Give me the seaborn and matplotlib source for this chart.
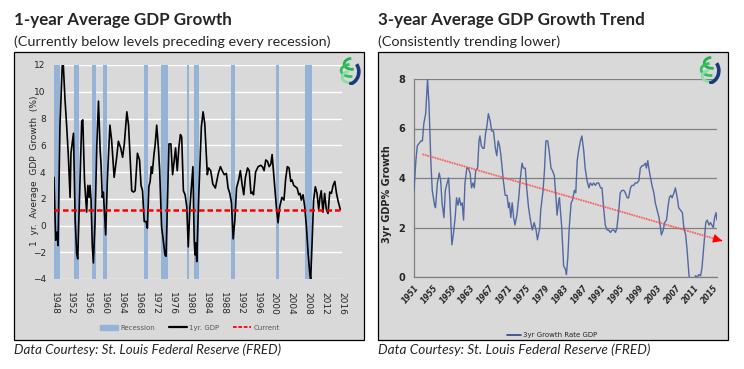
import matplotlib
matplotlib.use("Agg")
from matplotlib import pyplot as plt
from matplotlib.patches import Rectangle, Patch, Arc
from matplotlib.lines import Line2D
import pandas as pd
import seaborn as sns

# ---- 1-year average GDP growth (chart x position in years, value %) ----
gdp1_year = [1948.0, 1948.4, 1948.7, 1948.95, 1949.4, 1949.95, 1950.2, 1950.6, 1951.0, 1951.4,
             1951.8, 1952.0, 1952.6, 1953.0, 1953.35, 1953.6, 1954.15, 1954.55, 1954.8, 1955.2,
             1955.7, 1956.0, 1956.3, 1956.5, 1956.75, 1957.05, 1957.3, 1957.7, 1958.1, 1958.5,
             1958.9, 1959.1, 1959.4, 1959.65, 1960.2, 1960.6, 1961.2, 1961.6, 1962.2, 1962.4,
             1962.8, 1963.2, 1963.75, 1964.2, 1964.6, 1965.2, 1965.6, 1966.0, 1966.35, 1966.75,
             1967.15, 1967.7, 1968.2, 1968.55, 1968.9, 1969.3, 1969.75, 1970.05, 1970.4, 1970.7,
             1971.0, 1971.2, 1971.6, 1971.9, 1972.25, 1972.65, 1972.95, 1973.4, 1973.8, 1974.2,
             1974.45, 1974.75, 1975.15, 1975.6, 1976.0, 1976.4, 1976.7, 1977.1, 1977.5, 1977.85,
             1978.15, 1978.55, 1978.95, 1979.35, 1979.7, 1980.1, 1980.8, 1981.1, 1981.3, 1981.45,
             1981.7, 1982.2, 1982.8, 1983.2, 1983.6, 1984.2, 1984.5, 1985.0, 1985.5, 1986.1,
             1986.8, 1987.3, 1987.7, 1988.2, 1988.7, 1989.1, 1989.5, 1989.9, 1990.3, 1990.7,
             1991.1, 1991.6, 1992.0, 1992.4, 1992.8, 1993.2, 1993.7, 1994.1, 1994.5, 1994.9,
             1995.1, 1995.6, 1996.2, 1996.8, 1997.2, 1997.6, 1998.0, 1998.4, 1998.8, 1999.2,
             1999.5, 1999.8, 2000.1, 2000.5, 2000.9, 2001.3, 2001.8, 2002.3, 2002.7, 2003.1,
             2003.5, 2003.9, 2004.2, 2004.6, 2005.0, 2005.4, 2005.8, 2006.1, 2006.4, 2006.8,
             2007.2, 2007.6, 2008.0, 2008.4, 2008.6, 2008.9, 2009.3, 2009.7, 2010.1, 2010.5,
             2010.8, 2011.1, 2011.5, 2011.9, 2012.3, 2012.7, 2013.1, 2013.5, 2013.9, 2014.3,
             2014.7, 2015.1, 2015.6]
gdp1_val = [3.6, -1.1, -0.5, -1.5, 7.4, 12.0, 12.0, 9.4, 7.4, 5.1,
            2.1, 5.4, 6.9, 0.4, -2.1, -2.5, 3.6, 7.8, 7.9, 3.4,
            1.0, 3.0, 2.1, 3.0, 1.9, -1.6, -2.8, 0.4, 5.9, 9.3,
            5.6, 4.6, 2.1, 2.5, -0.7, 3.4, 7.5, 6.4, 3.6, 4.1,
            5.1, 6.3, 5.8, 5.1, 6.1, 8.5, 7.5, 4.9, 2.6, 2.5,
            2.6, 5.4, 4.9, 3.0, 2.6, 0.3, 0.3, -0.2, 2.9, 3.3,
            4.4, 3.9, 5.3, 6.1, 7.5, 5.8, 4.1, -0.1, -1.1, -2.2,
            -2.3, 1.2, 6.1, 6.1, 3.8, 4.9, 5.8, 4.1, 5.9, 6.8,
            6.6, 2.6, 2.3, 1.4, -1.6, 1.4, 4.4, -1.1, -2.2, -1.3,
            -2.7, 2.4, 7.4, 8.5, 7.6, 3.8, 4.3, 4.1, 3.1, 2.8,
            3.9, 4.4, 4.1, 3.8, 3.9, 2.8, 2.4, 1.7, -1.0, 0.4,
            2.8, 3.4, 4.1, 3.1, 2.3, 3.6, 4.3, 4.1, 2.4, 2.5,
            2.3, 4.0, 4.4, 4.5, 4.4, 4.1, 4.9, 4.8, 4.4, 4.6,
            5.3, 4.1, 2.9, 1.4, 0.2, 1.4, 2.1, 1.9, 3.5, 4.4,
            4.3, 3.3, 3.4, 3.0, 2.9, 2.8, 2.3, 2.4, 1.9, 2.3,
            1.4, -0.1, -2.1, -3.6, -4.0, -1.6, 1.9, 2.9, 2.4, 1.2,
            2.1, 2.6, 1.0, 2.4, 1.2, 0.9, 2.5, 2.4, 3.0, 3.3,
            2.4, 1.8, 1.2]
current_level = 1.15
rec_start = [1948.05, 1952.7, 1957.0, 1959.6, 1969.3, 1973.2, 1979.3, 1981.0, 1989.7, 2000.4, 2007.2]
rec_end = [1949.4, 1953.9, 1957.8, 1960.5, 1970.1, 1974.8, 1979.9, 1982.2, 1990.7, 2001.05, 2008.9]
left_xticks = list(range(1948, 2017, 4))
left_yticks = list(range(-4, 13, 2))

# ---- 3-year average GDP growth ----
gdp3_year = [1951.0, 1951.4, 1951.7, 1952.1, 1952.5, 1952.8, 1953.1, 1953.5, 1953.9, 1954.2,
             1954.6, 1954.9, 1955.4, 1955.6, 1956.0, 1956.4, 1956.7, 1957.0, 1957.4, 1957.7,
             1958.1, 1958.4, 1958.7, 1959.1, 1959.4, 1959.8, 1960.1, 1960.4, 1960.7, 1961.0,
             1961.3, 1961.6, 1961.9, 1962.3, 1962.6, 1963.0, 1963.3, 1963.6, 1963.9, 1964.2,
             1964.6, 1964.9, 1965.1, 1965.4, 1965.7, 1966.0, 1966.3, 1966.6, 1966.9, 1967.3,
             1967.6, 1968.0, 1968.4, 1968.7, 1969.0, 1969.3, 1969.6, 1969.9, 1970.1, 1970.5,
             1970.9, 1971.2, 1971.4, 1971.7, 1972.0, 1972.3, 1972.6, 1973.0, 1973.4, 1973.7,
             1974.1, 1974.4, 1974.8, 1975.1, 1975.5, 1975.9, 1976.3, 1976.7, 1977.1, 1977.4,
             1977.9, 1978.1, 1978.6, 1978.9, 1979.2, 1979.6, 1979.9, 1980.3, 1980.6, 1981.0,
             1981.4, 1981.6, 1981.9, 1982.1, 1982.6, 1983.0, 1983.4, 1983.6, 1983.9, 1984.2,
             1984.6, 1984.9, 1985.3, 1985.6, 1985.9, 1986.2, 1986.6, 1986.9, 1987.3, 1987.6,
             1988.0, 1988.4, 1988.7, 1989.1, 1989.4, 1989.8, 1990.1, 1990.5, 1990.9, 1991.2,
             1991.6, 1991.9, 1992.3, 1992.6, 1993.0, 1993.4, 1993.7, 1994.1, 1994.4, 1994.8,
             1995.1, 1995.5, 1995.9, 1996.2, 1996.6, 1996.9, 1997.3, 1997.6, 1998.0, 1998.3,
             1998.7, 1999.1, 1999.4, 1999.8, 2000.1, 2000.5, 2000.7, 2001.0, 2001.3, 2001.6,
             2001.9, 2002.3, 2002.6, 2003.0, 2003.4, 2003.7, 2003.9, 2004.3, 2004.6, 2005.0,
             2005.3, 2005.6, 2005.9, 2006.2, 2006.6, 2006.9, 2007.3, 2007.6, 2008.0, 2008.4,
             2008.7, 2009.1, 2009.4, 2009.8, 2010.1, 2010.5, 2010.9, 2011.2, 2011.6, 2011.9,
             2012.3, 2012.6, 2013.0, 2013.4, 2013.7, 2014.1, 2014.4, 2014.7, 2015.0, 2015.3,
             2015.6, 2015.8]
gdp3_val = [3.5, 4.7, 5.3, 5.4, 5.5, 5.5, 6.2, 6.6, 8.0, 7.0,
            4.7, 3.5, 2.9, 2.8, 3.8, 4.2, 3.9, 3.0, 2.4, 3.5,
            3.8, 4.0, 3.0, 1.3, 1.7, 2.4, 3.2, 2.9, 3.2, 2.9,
            3.0, 2.3, 3.8, 4.4, 4.4, 4.2, 3.6, 3.8, 3.6, 4.3,
            4.4, 5.5, 5.7, 5.3, 5.2, 5.2, 5.8, 6.1, 6.6, 6.3,
            5.9, 5.9, 5.2, 4.9, 5.5, 5.3, 4.9, 4.3, 3.9, 3.3,
            3.3, 2.8, 3.0, 2.4, 3.0, 2.4, 2.1, 2.5, 3.2, 3.9,
            4.6, 4.4, 4.4, 3.6, 2.8, 2.3, 1.9, 2.2, 1.9, 1.5,
            2.0, 2.7, 3.5, 4.3, 5.5, 5.5, 5.1, 4.4, 4.3, 4.1,
            3.1, 2.5, 3.0, 3.2, 2.0, 0.45, 0.3, 0.1, 0.8, 2.0,
            3.0, 3.1, 3.5, 3.4, 4.7, 5.1, 5.5, 5.7, 5.1, 4.4,
            3.9, 3.6, 3.8, 3.7, 3.8, 3.7, 3.8, 3.8, 3.6, 3.6,
            2.7, 2.1, 1.9, 1.9, 1.8, 1.9, 1.9, 1.8, 2.0, 2.7,
            3.4, 3.5, 3.5, 3.4, 3.2, 3.2, 3.6, 3.7, 3.7, 3.8,
            3.8, 3.9, 4.4, 4.5, 4.5, 4.6, 4.4, 4.7, 4.3, 4.0,
            3.7, 3.4, 3.0, 2.7, 2.4, 2.0, 1.7, 1.9, 2.2, 2.3,
            2.8, 3.2, 3.3, 3.2, 3.4, 3.6, 3.2, 2.8, 2.7, 2.6,
            2.0, 1.7, 1.1, 0.1, -0.3, -0.5, -0.2, 0.05, 0.0, 0.1,
            0.05, 0.4, 1.3, 2.2, 2.3, 2.1, 2.2, 2.1, 2.0, 2.4,
            2.6, 2.3]
trend_year = [1952.8, 2016.9]
trend_val = [4.96, 1.46]
right_xticks = list(range(1951, 2016, 4))
right_yticks = [0, 2, 4, 6, 8]

W, H = 744, 369
BG = "#d9d9d9"
REC_COLOR = "#95b3d7"
LINE3_COLOR = "#5168a3"

sns.set_style("white")
plt.rcParams["font.family"] = ["DejaVu Sans"]

fig = plt.figure(figsize=(W / 100, H / 100), dpi=100)


def fx(px):
    return px / W


def fy(py):
    return 1 - py / H


def fit_text(t, width_px):
    # shrink/grow font so the rendered text is as wide as in the reference
    r = fig.canvas.get_renderer()
    w = t.get_window_extent(renderer=r).width
    t.set_fontsize(t.get_fontsize() * width_px / w)


# panel boxes
for x0, x1 in [(14, 364), (378, 728)]:
    fig.patches.append(Rectangle((fx(x0), fy(340)), (x1 - x0) / W, (340 - 52) / H,
                                 transform=fig.transFigure, facecolor=BG,
                                 edgecolor="black", lw=0.9, zorder=-5))

# titles / notes
texts = [
    (14, 20, "1-year Average GDP Growth", dict(weight="bold"), 217),
    (14, 42, "(Currently below levels preceding every recession)", {}, 316),
    (378, 20, "3-year Average GDP Growth Trend", dict(weight="bold"), 267),
    (378, 42, "(Consistently trending lower)", {}, 182),
    (14, 350, "Data Courtesy: St. Louis Federal Reserve (FRED)", dict(style="italic"), 267),
    (378, 350, "Data Courtesy: St. Louis Federal Reserve (FRED)", dict(style="italic"), 270),
]
for x, y, s, kw, wpx in texts:
    t = fig.text(fx(x), fy(y), s, ha="left", va="center", fontsize=12,
                 family=["Lato", "DejaVu Sans"], **kw)
    fit_text(t, wpx)

# ---------------- left panel ----------------
ax1 = fig.add_axes([fx(54), fy(279), (342 - 54) / W, (279 - 65) / H])
ax1.set_facecolor("none")
for s, e in zip(rec_start, rec_end):
    ax1.axvspan(s, e, color=REC_COLOR, lw=0, zorder=1)
df1 = pd.DataFrame({"year": gdp1_year, "gdp": gdp1_val})
sns.lineplot(data=df1, x="year", y="gdp", ax=ax1, color="black", lw=1.2, zorder=3, legend=False)
ax1.axhline(current_level, color="red", lw=1.8, ls=(0, (2.2, 1.2)), zorder=4)
ax1.set_xlim(1948, 2016)
ax1.set_ylim(-4, 12)
ax1.set_yticks(left_yticks)
ax1.set_xticks(left_xticks)
ax1.set_xticklabels([str(v) for v in left_xticks], rotation=-90, va="top", ha="center")
ax1.grid(axis="y", color="white", lw=1.0, zorder=0)
ax1.set_axisbelow(True)
for sp in ax1.spines.values():
    sp.set_visible(False)
ax1.tick_params(length=0, labelsize=6.5, colors="#262626")
ax1.tick_params(axis="x", pad=9)
ax1.tick_params(axis="y", pad=6)
for lab in ax1.get_xticklabels() + ax1.get_yticklabels():
    lab.set_family(["Liberation Sans Narrow", "DejaVu Sans"])
ax1.set_xlabel("")
ax1.set_ylabel("")
fig.text(fx(35), fy(171), "1  yr.  Average  GDP  Growth  (%)", rotation=90, ha="center",
         va="center", fontsize=6.5, color="#262626")

leg1 = fig.legend(handles=[Patch(color=REC_COLOR, label="Recession"),
                           Line2D([], [], color="black", lw=1.6, label="1yr. GDP"),
                           Line2D([], [], color="red", lw=1.3, ls=(0, (2, 1)), label="Current")],
                  loc="center", bbox_to_anchor=(fx(190), fy(328)), ncol=3, frameon=False,
                  handlelength=2.6, handleheight=0.8, columnspacing=2.0,
                  handletextpad=0.3, prop={"family": ["Liberation Sans Narrow", "DejaVu Sans"], "size": 5})
for t in leg1.get_texts():
    t.set_color("#595959")

# ---------------- right panel ----------------
ax2 = fig.add_axes([fx(414), fy(277), (717 - 414) / W, (277 - 79) / H])
ax2.set_facecolor("none")
df3 = pd.DataFrame({"year": gdp3_year, "gdp": gdp3_val})
sns.lineplot(data=df3, x="year", y="gdp", ax=ax2, color=LINE3_COLOR, lw=1.0, zorder=3, legend=False)
df_tr = pd.DataFrame({"year": trend_year, "gdp": trend_val})
sns.lineplot(data=df_tr, x="year", y="gdp", ax=ax2, color="#ff5050", lw=1.3, alpha=0.85,
             ls=(0, (1, 0.4)), zorder=4, legend=False)
ax2.lines[-1].set_clip_on(False)
slope = (trend_val[1] - trend_val[0]) / (trend_year[1] - trend_year[0])
ax2.annotate("", xy=(trend_year[1], trend_val[1]),
             xytext=(trend_year[1] - 0.8, trend_val[1] - 0.8 * slope),
             arrowprops=dict(arrowstyle="-|>,head_length=0.5,head_width=0.25", color="red", lw=1.0),
             annotation_clip=False, zorder=5)
ax2.set_xlim(1951, 2015.8)
ax2.set_ylim(0, 8)
ax2.set_xticks(right_xticks)
ax2.set_xticklabels([str(v) for v in right_xticks], rotation=50, ha="right", va="top",
                    rotation_mode="anchor", style="italic", weight="bold")
ax2.set_yticks(right_yticks)
ax2.grid(axis="y", color="#808080", lw=0.9, zorder=0)
ax2.set_axisbelow(True)
for k in ["top", "right"]:
    ax2.spines[k].set_visible(False)
for k in ["left", "bottom"]:
    ax2.spines[k].set_color("#808080")
    ax2.spines[k].set_linewidth(0.9)
ax2.tick_params(axis="x", length=2.5, color="#808080", labelsize=5.5, pad=2, labelcolor="#262626")
ax2.tick_params(axis="y", length=2.5, color="#808080", labelsize=7, pad=4, labelcolor="#262626")
for lab in ax2.get_yticklabels():
    lab.set_weight("bold")
ax2.set_xlabel("")
ax2.set_ylabel("")
fig.text(fx(387), fy(194), "3yr GDP% Growth", rotation=90, ha="center", va="center",
         fontsize=7, weight="bold", color="#262626")

fig.legend(handles=[Line2D([], [], color="#2f3f86", lw=1.2, label="3yr Growth Rate GDP")],
           loc="center", bbox_to_anchor=(fx(552), fy(335)), frameon=False,
           handlelength=2.0, handletextpad=0.3,
           prop={"family": ["Liberation Sans Narrow", "DejaVu Sans"], "size": 5})

# ---------------- small logos ----------------
for lx, ly in [(338, 56), (698, 55)]:
    axl = fig.add_axes([fx(lx), fy(ly + 29), 25 / W, 29 / H])
    axl.set_xlim(-1.2, 1.2)
    axl.set_ylim(-1.2, 1.2)
    axl.axis("off")
    for (cx, cy, w, h, c) in [(0.15, 0.55, 1.5, 0.9, "#22b14c"),
                              (0.0, 0.0, 1.8, 1.0, "#35c060"),
                              (-0.1, -0.55, 1.4, 0.9, "#8fdca6")]:
        axl.add_patch(Arc((cx, cy), w, h, theta1=100, theta2=290, color=c, lw=2.0))
    axl.add_patch(Arc((-0.3, -0.1), 2.2, 2.1, theta1=-80, theta2=35, color="#1d3a78", lw=2.6))

fig.savefig("out.png", dpi=100)
